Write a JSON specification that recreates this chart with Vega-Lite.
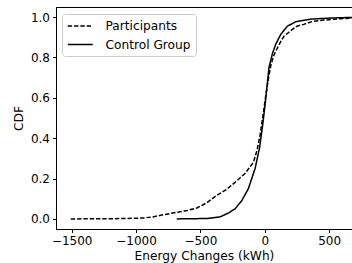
{
  "$schema": "https://vega.github.io/schema/vega-lite/v6.json",
  "width": 296,
  "height": 222,
  "autosize": {"type": "none"},
  "padding": {"left": 56, "top": 7, "right": 0, "bottom": 34},
  "background": "white",
  "config": {
    "font": "DejaVu Sans",
    "view": {"stroke": "black", "strokeWidth": 1},
    "axis": {
      "grid": false,
      "domainColor": "black",
      "tickColor": "black",
      "tickSize": 3.5,
      "labelColor": "black",
      "labelFontSize": 12,
      "labelFont": "DejaVu Sans",
      "titleFont": "DejaVu Sans",
      "titleFontSize": 12.2,
      "titleFontWeight": "normal",
      "titleColor": "black",
      "labelPadding": 3,
      "titlePadding": 3
    }
  },
  "data": {
    "values": [
      {"x": -1507, "y": 0.0, "g": "Participants"},
      {"x": -1200, "y": 0.001, "g": "Participants"},
      {"x": -1000, "y": 0.003, "g": "Participants"},
      {"x": -938, "y": 0.005, "g": "Participants"},
      {"x": -870, "y": 0.01, "g": "Participants"},
      {"x": -808, "y": 0.018, "g": "Participants"},
      {"x": -684, "y": 0.033, "g": "Participants"},
      {"x": -600, "y": 0.042, "g": "Participants"},
      {"x": -528, "y": 0.054, "g": "Participants"},
      {"x": -450, "y": 0.08, "g": "Participants"},
      {"x": -373, "y": 0.117, "g": "Participants"},
      {"x": -300, "y": 0.145, "g": "Participants"},
      {"x": -233, "y": 0.18, "g": "Participants"},
      {"x": -155, "y": 0.224, "g": "Participants"},
      {"x": -88, "y": 0.28, "g": "Participants"},
      {"x": -60, "y": 0.34, "g": "Participants"},
      {"x": -35, "y": 0.42, "g": "Participants"},
      {"x": -10, "y": 0.53, "g": "Participants"},
      {"x": 10, "y": 0.62, "g": "Participants"},
      {"x": 30, "y": 0.70, "g": "Participants"},
      {"x": 47, "y": 0.76, "g": "Participants"},
      {"x": 70, "y": 0.81, "g": "Participants"},
      {"x": 99, "y": 0.848, "g": "Participants"},
      {"x": 125, "y": 0.88, "g": "Participants"},
      {"x": 150, "y": 0.906, "g": "Participants"},
      {"x": 215, "y": 0.939, "g": "Participants"},
      {"x": 250, "y": 0.955, "g": "Participants"},
      {"x": 303, "y": 0.964, "g": "Participants"},
      {"x": 370, "y": 0.978, "g": "Participants"},
      {"x": 460, "y": 0.985, "g": "Participants"},
      {"x": 590, "y": 0.992, "g": "Participants"},
      {"x": 700, "y": 0.995, "g": "Participants"},
      {"x": -684, "y": 0.0, "g": "Control Group"},
      {"x": -451, "y": 0.002, "g": "Control Group"},
      {"x": -347, "y": 0.01, "g": "Control Group"},
      {"x": -280, "y": 0.03, "g": "Control Group"},
      {"x": -231, "y": 0.05, "g": "Control Group"},
      {"x": -179, "y": 0.09, "g": "Control Group"},
      {"x": -127, "y": 0.15, "g": "Control Group"},
      {"x": -75, "y": 0.25, "g": "Control Group"},
      {"x": -41, "y": 0.35, "g": "Control Group"},
      {"x": -15, "y": 0.47, "g": "Control Group"},
      {"x": 5, "y": 0.58, "g": "Control Group"},
      {"x": 20, "y": 0.67, "g": "Control Group"},
      {"x": 33, "y": 0.75, "g": "Control Group"},
      {"x": 60, "y": 0.82, "g": "Control Group"},
      {"x": 85, "y": 0.865, "g": "Control Group"},
      {"x": 124, "y": 0.914, "g": "Control Group"},
      {"x": 176, "y": 0.955, "g": "Control Group"},
      {"x": 241, "y": 0.977, "g": "Control Group"},
      {"x": 303, "y": 0.984, "g": "Control Group"},
      {"x": 360, "y": 0.99, "g": "Control Group"},
      {"x": 500, "y": 0.995, "g": "Control Group"},
      {"x": 700, "y": 0.999, "g": "Control Group"}
    ]
  },
  "mark": {"type": "line", "color": "black", "strokeWidth": 1.5, "clip": true},
  "encoding": {
    "x": {
      "field": "x",
      "type": "quantitative",
      "title": "Energy Changes (kWh)",
      "scale": {"domain": [-1622, 678], "nice": false, "zero": false},
      "axis": {"values": [-1500, -1000, -500, 0, 500], "labelExpr": "replace(format(datum.value, 'd'), '-', '\u2212')"}
    },
    "y": {
      "field": "y",
      "type": "quantitative",
      "title": "CDF",
      "scale": {"domain": [-0.05, 1.05], "nice": false, "zero": false},
      "axis": {"values": [0, 0.2, 0.4, 0.6, 0.8, 1.0], "format": ".1f", "titlePadding": 5}
    },
    "strokeDash": {
      "field": "g",
      "type": "nominal",
      "scale": {"domain": ["Participants", "Control Group"], "range": [[4.4, 1.9], [1, 0]]},
      "legend": {
        "title": null,
        "orient": "none",
        "legendX": 6,
        "legendY": 7,
        "symbolType": "M-1,0L3,0",
        "symbolSize": 156,
        "symbolStrokeWidth": 1.5,
        "symbolStrokeColor": "black",
        "labelFontSize": 12.2,
        "labelFont": "DejaVu Sans",
        "labelColor": "black",
        "labelOffset": 24.5,
        "rowPadding": 4.5,
        "padding": 5,
        "strokeColor": "#cccccc",
        "fillColor": "rgba(255,255,255,0.8)",
        "cornerRadius": 3
      }
    }
  }
}
